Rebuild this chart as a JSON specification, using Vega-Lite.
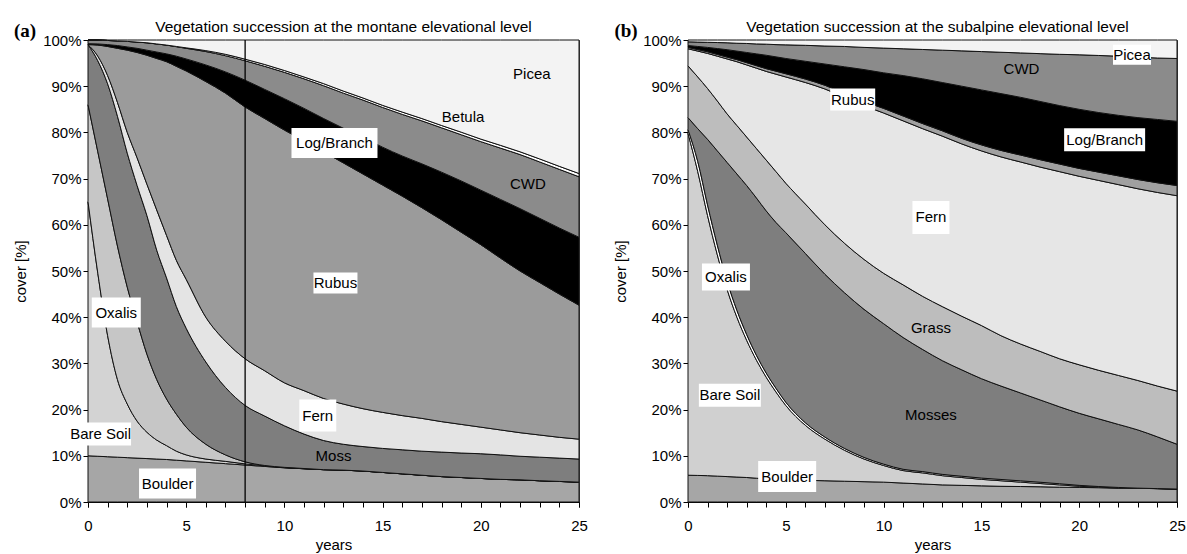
{
  "$schema": "https://vega.github.io/schema/vega-lite/v6.json",
  "background": "white",
  "padding": {"left": 13, "top": 19, "right": 4, "bottom": 0},
  "spacing": 25,
  "config": {
    "font": "Liberation Sans",
    "view": {"stroke": "#444", "strokeWidth": 1},
    "axis": {"labelFontSize": 15, "titleFontSize": 15, "titleFontWeight": "normal", "labelColor": "#000", "titleColor": "#000", "domainColor": "#000", "tickColor": "#000", "grid": false, "tickSize": 5, "labelFont": "Liberation Sans", "titleFont": "Liberation Sans"},
    "title": {"fontSize": 15.5, "fontWeight": "normal", "color": "#000", "font": "Liberation Sans", "offset": -13, "anchor": "middle"}
  },
  "resolve": {"scale": {"color": "independent", "shape": "independent"}},
  "hconcat": [
    {
      "width": 491,
      "height": 462,
      "title": {"text": "Vegetation succession at the montane elevational level", "dx": 10},
      "resolve": {"axis": {"x": "independent"}},
      "layer": [
        {
          "data": {"values": [
            {"year": 0, "Boulder": 10, "Bare Soil": 55, "Oxalis": 21, "Moss": 13, "Fern": 0, "Rubus": 0, "Log/Branch": 0.2, "CWD": 0.8, "Betula": 0, "Picea": 0},
            {"year": 0.5, "Boulder": 9.9, "Bare Soil": 39.6, "Oxalis": 26.3, "Moss": 19.7, "Fern": 1.0, "Rubus": 2.4, "Log/Branch": 0.25, "CWD": 0.85, "Betula": 0, "Picea": 0},
            {"year": 1, "Boulder": 9.8, "Bare Soil": 26.2, "Oxalis": 29.6, "Moss": 24.9, "Fern": 1.8, "Rubus": 6.3, "Log/Branch": 0.4, "CWD": 0.9, "Betula": 0, "Picea": 0.1},
            {"year": 1.5, "Boulder": 9.7, "Bare Soil": 16.8, "Oxalis": 28.9, "Moss": 28.1, "Fern": 3.0, "Rubus": 11.7, "Log/Branch": 0.6, "CWD": 1.0, "Betula": 0, "Picea": 0.2},
            {"year": 2, "Boulder": 9.6, "Bare Soil": 11.6, "Oxalis": 25.3, "Moss": 29.0, "Fern": 4.5, "Rubus": 17.8, "Log/Branch": 0.7, "CWD": 1.2, "Betula": 0, "Picea": 0.3},
            {"year": 2.5, "Boulder": 9.5, "Bare Soil": 8.0, "Oxalis": 21.5, "Moss": 29.5, "Fern": 6.0, "Rubus": 22.8, "Log/Branch": 0.9, "CWD": 1.35, "Betula": 0, "Picea": 0.45},
            {"year": 3, "Boulder": 9.4, "Bare Soil": 5.7, "Oxalis": 16.9, "Moss": 30.0, "Fern": 6.8, "Rubus": 27.9, "Log/Branch": 1.1, "CWD": 1.6, "Betula": 0, "Picea": 0.6},
            {"year": 3.5, "Boulder": 9.3, "Bare Soil": 4.1, "Oxalis": 13.1, "Moss": 28.0, "Fern": 8.7, "Rubus": 32.8, "Log/Branch": 1.4, "CWD": 1.75, "Betula": 0, "Picea": 0.85},
            {"year": 4, "Boulder": 9.2, "Bare Soil": 3.0, "Oxalis": 10.1, "Moss": 26.2, "Fern": 9.2, "Rubus": 37.6, "Log/Branch": 1.7, "CWD": 1.9, "Betula": 0, "Picea": 1.1},
            {"year": 4.5, "Boulder": 9.05, "Bare Soil": 1.95, "Oxalis": 8.0, "Moss": 23.3, "Fern": 10.0, "Rubus": 42.0, "Log/Branch": 2.2, "CWD": 2.05, "Betula": 0.05, "Picea": 1.4},
            {"year": 5, "Boulder": 8.9, "Bare Soil": 1.3, "Oxalis": 6.0, "Moss": 21.4, "Fern": 10.6, "Rubus": 45.1, "Log/Branch": 2.6, "CWD": 2.3, "Betula": 0.1, "Picea": 1.7},
            {"year": 6, "Boulder": 8.6, "Bare Soil": 0.7, "Oxalis": 3.2, "Moss": 17.8, "Fern": 9.7, "Rubus": 51.0, "Log/Branch": 3.6, "CWD": 2.9, "Betula": 0.2, "Picea": 2.3},
            {"year": 7, "Boulder": 8.3, "Bare Soil": 0.5, "Oxalis": 1.4, "Moss": 14.6, "Fern": 10.0, "Rubus": 53.7, "Log/Branch": 4.6, "CWD": 3.5, "Betula": 0.3, "Picea": 3.1},
            {"year": 8, "Boulder": 8.0, "Bare Soil": 0.25, "Oxalis": 0.45, "Moss": 12.2, "Fern": 10.1, "Rubus": 54.5, "Log/Branch": 5.8, "CWD": 4.2, "Betula": 0.35, "Picea": 4.15},
            {"year": 9, "Boulder": 7.7, "Bare Soil": 0.1, "Oxalis": 0.1, "Moss": 10.7, "Fern": 9.8, "Rubus": 54.6, "Log/Branch": 6.3, "CWD": 5.0, "Betula": 0.4, "Picea": 5.3},
            {"year": 10, "Boulder": 7.4, "Bare Soil": 0.05, "Oxalis": 0.05, "Moss": 9.0, "Fern": 9.3, "Rubus": 54.7, "Log/Branch": 6.8, "CWD": 5.7, "Betula": 0.4, "Picea": 6.6},
            {"year": 11, "Boulder": 7.2, "Bare Soil": 0, "Oxalis": 0.05, "Moss": 7.45, "Fern": 9.4, "Rubus": 54.1, "Log/Branch": 7.0, "CWD": 6.4, "Betula": 0.4, "Picea": 8.0},
            {"year": 12, "Boulder": 7.0, "Bare Soil": 0, "Oxalis": 0, "Moss": 6.3, "Fern": 9.1, "Rubus": 53.4, "Log/Branch": 7.2, "CWD": 7.1, "Betula": 0.45, "Picea": 9.45},
            {"year": 13, "Boulder": 6.9, "Bare Soil": 0, "Oxalis": 0, "Moss": 5.6, "Fern": 8.7, "Rubus": 52.2, "Log/Branch": 7.5, "CWD": 7.6, "Betula": 0.45, "Picea": 11.05},
            {"year": 14, "Boulder": 6.7, "Bare Soil": 0, "Oxalis": 0, "Moss": 5.3, "Fern": 8.2, "Rubus": 50.8, "Log/Branch": 7.9, "CWD": 8.1, "Betula": 0.45, "Picea": 12.55},
            {"year": 15, "Boulder": 6.4, "Bare Soil": 0, "Oxalis": 0, "Moss": 5.2, "Fern": 7.8, "Rubus": 49.2, "Log/Branch": 8.2, "CWD": 8.6, "Betula": 0.45, "Picea": 14.15},
            {"year": 16, "Boulder": 6.1, "Bare Soil": 0, "Oxalis": 0, "Moss": 5.2, "Fern": 7.4, "Rubus": 47.5, "Log/Branch": 8.7, "CWD": 9.0, "Betula": 0.5, "Picea": 15.6},
            {"year": 17, "Boulder": 5.8, "Bare Soil": 0, "Oxalis": 0, "Moss": 5.2, "Fern": 7.1, "Rubus": 45.6, "Log/Branch": 9.5, "CWD": 9.3, "Betula": 0.5, "Picea": 17.0},
            {"year": 18, "Boulder": 5.5, "Bare Soil": 0, "Oxalis": 0, "Moss": 5.3, "Fern": 6.6, "Rubus": 43.7, "Log/Branch": 10.3, "CWD": 9.6, "Betula": 0.5, "Picea": 18.5},
            {"year": 19, "Boulder": 5.3, "Bare Soil": 0, "Oxalis": 0, "Moss": 5.3, "Fern": 6.2, "Rubus": 41.6, "Log/Branch": 11.1, "CWD": 10.0, "Betula": 0.55, "Picea": 19.95},
            {"year": 20, "Boulder": 5.1, "Bare Soil": 0, "Oxalis": 0, "Moss": 5.35, "Fern": 5.75, "Rubus": 39.5, "Log/Branch": 11.8, "CWD": 10.5, "Betula": 0.55, "Picea": 21.45},
            {"year": 21, "Boulder": 4.9, "Bare Soil": 0, "Oxalis": 0, "Moss": 5.3, "Fern": 5.4, "Rubus": 37.2, "Log/Branch": 12.7, "CWD": 11.1, "Betula": 0.6, "Picea": 22.8},
            {"year": 22, "Boulder": 4.8, "Bare Soil": 0, "Oxalis": 0, "Moss": 5.1, "Fern": 5.1, "Rubus": 35.0, "Log/Branch": 13.5, "CWD": 11.7, "Betula": 0.6, "Picea": 24.2},
            {"year": 23, "Boulder": 4.6, "Bare Soil": 0, "Oxalis": 0, "Moss": 5.1, "Fern": 4.8, "Rubus": 33.0, "Log/Branch": 13.9, "CWD": 12.2, "Betula": 0.65, "Picea": 25.75},
            {"year": 24, "Boulder": 4.45, "Bare Soil": 0, "Oxalis": 0, "Moss": 5.05, "Fern": 4.5, "Rubus": 31.0, "Log/Branch": 14.3, "CWD": 12.7, "Betula": 0.65, "Picea": 27.35},
            {"year": 25, "Boulder": 4.3, "Bare Soil": 0, "Oxalis": 0, "Moss": 5.0, "Fern": 4.3, "Rubus": 29.0, "Log/Branch": 14.7, "CWD": 13.1, "Betula": 0.7, "Picea": 28.9}
          ]},
          "transform": [
            {"fold": ["Boulder", "Bare Soil", "Oxalis", "Moss", "Fern", "Rubus", "Log/Branch", "CWD", "Betula", "Picea"], "as": ["series", "cover"]},
            {"calculate": "indexof(['Boulder','Bare Soil','Oxalis','Moss','Fern','Rubus','Log/Branch','CWD','Betula','Picea'], datum.series)", "as": "k"}
          ],
          "mark": {"type": "area", "stroke": "#111", "strokeWidth": 1, "interpolate": "monotone", "opacity": 1},
          "encoding": {
            "x": {"field": "year", "type": "quantitative", "scale": {"domain": [0, 25], "nice": false, "zero": false},
                  "axis": {"orient": "bottom", "values": [0,1,2,3,4,5,6,7,8,9,10,11,12,13,14,15,16,17,18,19,20,21,22,23,24,25], "labels": false, "title": null, "tickSize": 5}},
            "y": {"field": "cover", "type": "quantitative", "stack": "zero", "scale": {"domain": [0, 100], "nice": false},
                  "axis": {"values": [0,10,20,30,40,50,60,70,80,90,100], "labelExpr": "datum.value + '%'", "title": "cover [%]", "labelPadding": 2, "titlePadding": 14}},
            "color": {"field": "series", "type": "nominal", "legend": null,
                      "scale": {"domain": ["Boulder", "Bare Soil", "Oxalis", "Moss", "Fern", "Rubus", "Log/Branch", "CWD", "Betula", "Picea"],
                                "range": ["#a6a6a6", "#d3d3d3", "#c6c6c6", "#7e7e7e", "#e4e4e4", "#9b9b9b", "#000000", "#8b8b8b", "#ffffff", "#f3f3f3"]}},
            "order": {"field": "k", "type": "quantitative"}
          }
        },
        {
          "data": {"values": [{}]},
          "mark": {"type": "rule", "color": "#000", "strokeWidth": 1.3},
          "encoding": {"x": {"datum": 8, "type": "quantitative", "axis": null}}
        },
        {
          "data": {"values": [
            {"label": "Picea", "year": 22.6, "pct": 92.6},
            {"label": "Betula", "year": 19.1, "pct": 83.3},
            {"label": "Log/Branch", "year": 12.55, "pct": 77.7},
            {"label": "CWD", "year": 22.4, "pct": 68.8},
            {"label": "Rubus", "year": 12.6, "pct": 47.4},
            {"label": "Oxalis", "year": 1.44, "pct": 41.0},
            {"label": "Fern", "year": 11.7, "pct": 18.7},
            {"label": "Bare Soil", "year": 0.64, "pct": 14.7},
            {"label": "Moss", "year": 12.5, "pct": 10.0},
            {"label": "Boulder", "year": 4.05, "pct": 4.0}
          ]},
          "layer": [
            {
              "transform": [{"filter": {"field": "label", "oneOf": ["Log/Branch", "Rubus", "Oxalis", "Fern", "Bare Soil", "Boulder"]}}],
              "mark": {"type": "point", "filled": true, "fill": "#ffffff", "opacity": 1, "strokeWidth": 0, "size": 4},
              "encoding": {
                "x": {"field": "year", "type": "quantitative", "axis": null},
                "y": {"field": "pct", "type": "quantitative"},
                "shape": {"field": "label", "type": "nominal", "legend": null,
                          "scale": {"domain": ["Log/Branch", "Rubus", "Oxalis", "Fern", "Bare Soil", "Boulder"],
                                    "range": ["M-43,-15H43V15H-43Z", "M-22,-10.5H22V10.5H-22Z", "M-24.5,-15H24.5V15H-24.5Z", "M-18.5,-16H18.5V16H-18.5Z", "M-30.5,-11.5H30.5V11.5H-30.5Z", "M-28.5,-15H28.5V15H-28.5Z"]}}
              }
            },
            {
              "mark": {"type": "text", "fontSize": 15, "font": "Liberation Sans", "color": "#000", "align": "center", "baseline": "middle"},
              "encoding": {
                "x": {"field": "year", "type": "quantitative", "axis": null},
                "y": {"field": "pct", "type": "quantitative"},
                "text": {"field": "label"}
              }
            }
          ]
        },
        {
          "data": {"values": [{}]},
          "mark": {"type": "text", "text": "(a)", "font": "Liberation Serif", "fontWeight": "bold", "fontSize": 19, "align": "center", "baseline": "middle", "dx": -63, "dy": -9, "color": "#000"},
          "encoding": {
            "x": {"datum": 0, "type": "quantitative",
                  "axis": {"orient": "bottom", "values": [0, 5, 10, 15, 20, 25], "title": "years", "tickSize": 5, "labelPadding": 11, "titlePadding": 4, "labelOverlap": false, "labelFlush": false, "domain": false}},
            "y": {"datum": 100, "type": "quantitative"}
          }
        }
      ]
    },
    {
      "width": 489,
      "height": 462,
      "title": {"text": "Vegetation succession at the subalpine elevational level", "dx": 5},
      "resolve": {"axis": {"x": "independent"}},
      "layer": [
        {
          "data": {"values": [
            {"year": 0, "Boulder": 5.8, "Bare Soil": 74.0, "Oxalis": 0.8, "Mosses": 2.6, "Grass": 11.2, "Fern": 3.7, "Rubus": 0.3, "Log/Branch": 0.4, "CWD": 0.8, "Picea": 0.4},
            {"year": 0.5, "Boulder": 5.75, "Bare Soil": 65.75, "Oxalis": 2.2, "Mosses": 7.1, "Grass": 11.2, "Fern": 5.6, "Rubus": 0.32, "Log/Branch": 0.68, "CWD": 0.95, "Picea": 0.45},
            {"year": 1, "Boulder": 5.7, "Bare Soil": 56.3, "Oxalis": 2.3, "Mosses": 14.2, "Grass": 11.0, "Fern": 7.6, "Rubus": 0.35, "Log/Branch": 0.95, "CWD": 1.1, "Picea": 0.5},
            {"year": 1.5, "Boulder": 5.6, "Bare Soil": 47.9, "Oxalis": 2.1, "Mosses": 20.4, "Grass": 10.8, "Fern": 9.7, "Rubus": 0.38, "Log/Branch": 1.27, "CWD": 1.3, "Picea": 0.55},
            {"year": 2, "Boulder": 5.5, "Bare Soil": 40.5, "Oxalis": 1.8, "Mosses": 25.7, "Grass": 10.5, "Fern": 11.9, "Rubus": 0.4, "Log/Branch": 1.6, "CWD": 1.5, "Picea": 0.6},
            {"year": 2.5, "Boulder": 5.4, "Bare Soil": 34.6, "Oxalis": 1.5, "Mosses": 29.5, "Grass": 10.5, "Fern": 13.8, "Rubus": 0.45, "Log/Branch": 1.85, "CWD": 1.7, "Picea": 0.7},
            {"year": 3, "Boulder": 5.3, "Bare Soil": 29.7, "Oxalis": 1.25, "Mosses": 32.25, "Grass": 10.5, "Fern": 15.6, "Rubus": 0.5, "Log/Branch": 2.2, "CWD": 1.95, "Picea": 0.75},
            {"year": 3.5, "Boulder": 5.15, "Bare Soil": 25.55, "Oxalis": 1.05, "Mosses": 34.05, "Grass": 10.7, "Fern": 17.4, "Rubus": 0.55, "Log/Branch": 2.55, "CWD": 2.15, "Picea": 0.85},
            {"year": 4, "Boulder": 5.0, "Bare Soil": 22.0, "Oxalis": 0.9, "Mosses": 35.1, "Grass": 11.0, "Fern": 19.2, "Rubus": 0.6, "Log/Branch": 2.9, "CWD": 2.4, "Picea": 0.9},
            {"year": 4.5, "Boulder": 4.9, "Bare Soil": 18.9, "Oxalis": 0.8, "Mosses": 35.9, "Grass": 11.0, "Fern": 21.1, "Rubus": 0.65, "Log/Branch": 3.1, "CWD": 2.65, "Picea": 1.0},
            {"year": 5, "Boulder": 4.8, "Bare Soil": 16.1, "Oxalis": 0.7, "Mosses": 36.7, "Grass": 10.7, "Fern": 23.0, "Rubus": 0.7, "Log/Branch": 3.3, "CWD": 2.95, "Picea": 1.05},
            {"year": 6, "Boulder": 4.7, "Bare Soil": 11.9, "Oxalis": 0.55, "Mosses": 36.65, "Grass": 10.7, "Fern": 26.3, "Rubus": 0.75, "Log/Branch": 3.85, "CWD": 3.45, "Picea": 1.15},
            {"year": 7, "Boulder": 4.6, "Bare Soil": 9.0, "Oxalis": 0.45, "Mosses": 35.25, "Grass": 10.7, "Fern": 29.4, "Rubus": 0.8, "Log/Branch": 4.6, "CWD": 3.9, "Picea": 1.3},
            {"year": 8, "Boulder": 4.5, "Bare Soil": 6.7, "Oxalis": 0.4, "Mosses": 33.7, "Grass": 10.7, "Fern": 31.6, "Rubus": 0.85, "Log/Branch": 5.75, "CWD": 4.4, "Picea": 1.4},
            {"year": 9, "Boulder": 4.4, "Bare Soil": 4.9, "Oxalis": 0.35, "Mosses": 32.05, "Grass": 10.8, "Fern": 33.3, "Rubus": 0.9, "Log/Branch": 6.9, "CWD": 4.8, "Picea": 1.6},
            {"year": 10, "Boulder": 4.3, "Bare Soil": 3.6, "Oxalis": 0.3, "Mosses": 30.4, "Grass": 10.9, "Fern": 34.7, "Rubus": 1.0, "Log/Branch": 7.7, "CWD": 5.35, "Picea": 1.75},
            {"year": 11, "Boulder": 4.1, "Bare Soil": 2.7, "Oxalis": 0.28, "Mosses": 28.52, "Grass": 11.4, "Fern": 35.5, "Rubus": 1.05, "Log/Branch": 8.75, "CWD": 5.8, "Picea": 1.9},
            {"year": 12, "Boulder": 3.9, "Bare Soil": 2.4, "Oxalis": 0.28, "Mosses": 26.42, "Grass": 11.5, "Fern": 36.3, "Rubus": 1.1, "Log/Branch": 9.7, "CWD": 6.35, "Picea": 2.05},
            {"year": 13, "Boulder": 3.7, "Bare Soil": 2.0, "Oxalis": 0.28, "Mosses": 24.62, "Grass": 11.7, "Fern": 36.9, "Rubus": 1.15, "Log/Branch": 10.45, "CWD": 7.0, "Picea": 2.2},
            {"year": 14, "Boulder": 3.6, "Bare Soil": 1.7, "Oxalis": 0.28, "Mosses": 23.02, "Grass": 11.6, "Fern": 37.3, "Rubus": 1.2, "Log/Branch": 11.3, "CWD": 7.65, "Picea": 2.35},
            {"year": 15, "Boulder": 3.5, "Bare Soil": 1.4, "Oxalis": 0.28, "Mosses": 21.52, "Grass": 11.5, "Fern": 37.8, "Rubus": 1.3, "Log/Branch": 11.9, "CWD": 8.3, "Picea": 2.5},
            {"year": 16, "Boulder": 3.4, "Bare Soil": 1.2, "Oxalis": 0.28, "Mosses": 20.22, "Grass": 10.9, "Fern": 38.7, "Rubus": 1.4, "Log/Branch": 12.3, "CWD": 8.95, "Picea": 2.65},
            {"year": 17, "Boulder": 3.35, "Bare Soil": 0.95, "Oxalis": 0.28, "Mosses": 19.02, "Grass": 10.6, "Fern": 39.4, "Rubus": 1.5, "Log/Branch": 12.5, "CWD": 9.6, "Picea": 2.8},
            {"year": 18, "Boulder": 3.3, "Bare Soil": 0.7, "Oxalis": 0.28, "Mosses": 17.82, "Grass": 10.5, "Fern": 39.9, "Rubus": 1.6, "Log/Branch": 12.6, "CWD": 10.35, "Picea": 2.95},
            {"year": 19, "Boulder": 3.2, "Bare Soil": 0.5, "Oxalis": 0.25, "Mosses": 16.65, "Grass": 10.4, "Fern": 40.5, "Rubus": 1.65, "Log/Branch": 12.65, "CWD": 11.1, "Picea": 3.1},
            {"year": 20, "Boulder": 3.15, "Bare Soil": 0.25, "Oxalis": 0.2, "Mosses": 15.6, "Grass": 10.5, "Fern": 40.8, "Rubus": 1.7, "Log/Branch": 12.8, "CWD": 11.8, "Picea": 3.2},
            {"year": 21, "Boulder": 3.1, "Bare Soil": 0.1, "Oxalis": 0.15, "Mosses": 14.65, "Grass": 10.5, "Fern": 41.1, "Rubus": 1.8, "Log/Branch": 12.9, "CWD": 12.35, "Picea": 3.35},
            {"year": 22, "Boulder": 3.0, "Bare Soil": 0.05, "Oxalis": 0.1, "Mosses": 13.65, "Grass": 10.6, "Fern": 41.3, "Rubus": 1.9, "Log/Branch": 13.1, "CWD": 12.8, "Picea": 3.5},
            {"year": 23, "Boulder": 2.95, "Bare Soil": 0, "Oxalis": 0.05, "Mosses": 12.6, "Grass": 10.7, "Fern": 41.5, "Rubus": 2.0, "Log/Branch": 13.4, "CWD": 13.1, "Picea": 3.7},
            {"year": 24, "Boulder": 2.9, "Bare Soil": 0, "Oxalis": 0, "Mosses": 11.2, "Grass": 11.0, "Fern": 41.9, "Rubus": 2.1, "Log/Branch": 13.7, "CWD": 13.3, "Picea": 3.9},
            {"year": 25, "Boulder": 2.8, "Bare Soil": 0, "Oxalis": 0, "Mosses": 9.7, "Grass": 11.5, "Fern": 42.3, "Rubus": 2.2, "Log/Branch": 13.9, "CWD": 13.6, "Picea": 4.0}
          ]},
          "transform": [
            {"fold": ["Boulder", "Bare Soil", "Oxalis", "Mosses", "Grass", "Fern", "Rubus", "Log/Branch", "CWD", "Picea"], "as": ["series", "cover"]},
            {"calculate": "indexof(['Boulder','Bare Soil','Oxalis','Mosses','Grass','Fern','Rubus','Log/Branch','CWD','Picea'], datum.series)", "as": "k"}
          ],
          "mark": {"type": "area", "stroke": "#111", "strokeWidth": 1, "interpolate": "monotone", "opacity": 1},
          "encoding": {
            "x": {"field": "year", "type": "quantitative", "scale": {"domain": [0, 25], "nice": false, "zero": false},
                  "axis": {"orient": "bottom", "values": [0,1,2,3,4,5,6,7,8,9,10,11,12,13,14,15,16,17,18,19,20,21,22,23,24,25], "labels": false, "title": null, "tickSize": 5}},
            "y": {"field": "cover", "type": "quantitative", "stack": "zero", "scale": {"domain": [0, 100], "nice": false},
                  "axis": {"values": [0,10,20,30,40,50,60,70,80,90,100], "labelExpr": "datum.value + '%'", "title": "cover [%]", "labelPadding": 2, "titlePadding": 14}},
            "color": {"field": "series", "type": "nominal", "legend": null,
                      "scale": {"domain": ["Boulder", "Bare Soil", "Oxalis", "Mosses", "Grass", "Fern", "Rubus", "Log/Branch", "CWD", "Picea"],
                                "range": ["#a6a6a6", "#d0d0d0", "#ffffff", "#7e7e7e", "#bdbdbd", "#e6e6e6", "#a0a0a0", "#000000", "#8b8b8b", "#f3f3f3"]}},
            "order": {"field": "k", "type": "quantitative"}
          }
        },
        {
          "data": {"values": [
            {"label": "Picea", "year": 22.7, "pct": 96.8},
            {"label": "CWD", "year": 17.05, "pct": 93.7},
            {"label": "Rubus", "year": 8.42, "pct": 87.1},
            {"label": "Log/Branch", "year": 21.3, "pct": 78.4},
            {"label": "Fern", "year": 12.42, "pct": 61.6},
            {"label": "Oxalis", "year": 1.94, "pct": 48.7},
            {"label": "Grass", "year": 12.42, "pct": 37.6},
            {"label": "Bare Soil", "year": 2.14, "pct": 23.1},
            {"label": "Mosses", "year": 12.42, "pct": 18.8},
            {"label": "Boulder", "year": 5.07, "pct": 5.5}
          ]},
          "layer": [
            {
              "transform": [{"filter": {"field": "label", "oneOf": ["Picea", "Rubus", "Log/Branch", "Fern", "Oxalis", "Bare Soil", "Boulder"]}}],
              "mark": {"type": "point", "filled": true, "fill": "#ffffff", "opacity": 1, "strokeWidth": 0, "size": 4},
              "encoding": {
                "x": {"field": "year", "type": "quantitative", "axis": null},
                "y": {"field": "pct", "type": "quantitative"},
                "shape": {"field": "label", "type": "nominal", "legend": null,
                          "scale": {"domain": ["Picea", "Rubus", "Log/Branch", "Fern", "Oxalis", "Bare Soil", "Boulder"],
                                    "range": ["M-19,-10H19V10H-19Z", "M-22.5,-11H22.5V11H-22.5Z", "M-40.5,-11.5H40.5V11.5H-40.5Z", "M-18.5,-16.5H18.5V16.5H-18.5Z", "M-24,-13.5H24V13.5H-24Z", "M-31,-11.5H31V11.5H-31Z", "M-29,-15.5H29V15.5H-29Z"]}}
              }
            },
            {
              "mark": {"type": "text", "fontSize": 15, "font": "Liberation Sans", "color": "#000", "align": "center", "baseline": "middle"},
              "encoding": {
                "x": {"field": "year", "type": "quantitative", "axis": null},
                "y": {"field": "pct", "type": "quantitative"},
                "text": {"field": "label"}
              }
            }
          ]
        },
        {
          "data": {"values": [{}]},
          "mark": {"type": "text", "text": "(b)", "font": "Liberation Serif", "fontWeight": "bold", "fontSize": 19, "align": "center", "baseline": "middle", "dx": -62, "dy": -9, "color": "#000"},
          "encoding": {
            "x": {"datum": 0, "type": "quantitative",
                  "axis": {"orient": "bottom", "values": [0, 5, 10, 15, 20, 25], "title": "years", "tickSize": 5, "labelPadding": 11, "titlePadding": 4, "labelOverlap": false, "labelFlush": false, "domain": false}},
            "y": {"datum": 100, "type": "quantitative"}
          }
        }
      ]
    }
  ]
}
